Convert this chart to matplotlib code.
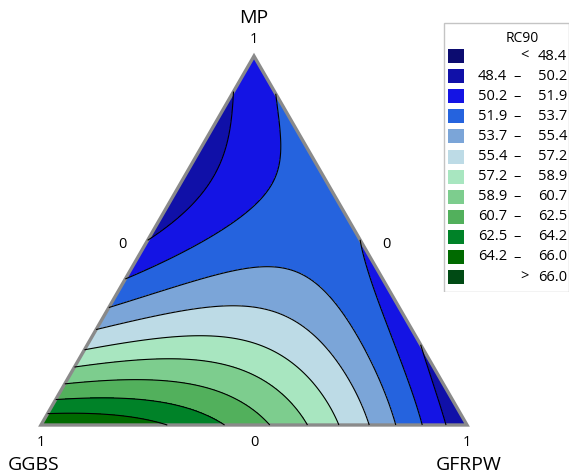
import numpy as np
import matplotlib
matplotlib.use("Agg")
import matplotlib.pyplot as plt
import matplotlib.tri as mtri
from matplotlib.patches import Polygon, Rectangle

plt.rcParams['font.family'] = ['Open Sans', 'DejaVu Sans']

# contour levels and band colours (RC90)
levels = [48.4, 50.2, 51.9, 53.7, 55.4, 57.2, 58.9, 60.7, 62.5, 64.2, 66.0]
band_colors = ['#0c0c70', '#1010a8', '#1414e4', '#2563de', '#7ba5d8', '#bddbe6',
               '#a8e6c0', '#7dcd8e', '#52b05c', '#008228', '#006a00', '#004a14']
legend_title = "RC90"

# points: GFRPW and MP fractions (GGBS = 1 - both) and RC90
gfrpw = [0.0, 1.0, 0.0,
         0.0, 0.0, 0.0, 0.0, 0.0, 0.0, 0.0, 0.0, 0.0, 0.0, 0.0,
         0.296, 0.427, 0.538, 0.627, 0.702, 0.770, 0.833, 0.892, 0.944,
         0.824, 0.65, 0.463, 0.27, 0.073,
         0.134, 0.274, 0.302, 0.381, 0.428, 0.550, 0.673, 0.765,
         0.154, 0.325, 0.389, 0.496, 0.593, 0.676,
         0.184, 0.382, 0.443, 0.554, 0.633,
         0.196, 0.430, 0.493, 0.577,
         0.188, 0.410,
         0.172, 0.346,
         0.115,
         0.144, 0.225, 0.226, 0.185, 0.096,
         0.596, 0.704, 0.802,
         0.065, 0.085, 0.049,
         0.873,
         0.35, 0.03, 0.05]
mp = [0.0, 0.0, 1.0,
      0.033, 0.068, 0.111, 0.157, 0.209, 0.257, 0.317, 0.393, 0.488, 0.70, 0.900,
      0.0, 0.0, 0.0, 0.0, 0.0, 0.0, 0.0, 0.0, 0.0,
      0.176, 0.35, 0.537, 0.73, 0.927,
      0.385, 0.434, 0.439, 0.420, 0.393, 0.304, 0.184, 0.095,
      0.298, 0.331, 0.312, 0.257, 0.184, 0.114,
      0.238, 0.217, 0.203, 0.141, 0.076,
      0.182, 0.122, 0.103, 0.049,
      0.122, 0.068,
      0.073, 0.041,
      0.033,
      0.835, 0.718, 0.637, 0.564, 0.474,
      0.366, 0.230, 0.114,
      0.780, 0.656, 0.556,
      0.095,
      0.55, 0.68, 0.90]
rc90 = [65.5, 48.8, 51.0,
        64.2, 62.5, 60.7, 58.9, 57.2, 55.4, 53.7, 51.9, 50.2, 49.6, 50.2,
        64.2, 62.5, 60.7, 58.9, 57.2, 55.4, 53.7, 51.9, 50.2,
        50.2, 51.1, 51.9, 52.6, 51.9,
        53.7, 53.7, 53.7, 53.7, 53.7, 53.7, 53.7, 53.7,
        55.4, 55.4, 55.4, 55.4, 55.4, 55.4,
        57.2, 57.2, 57.2, 57.2, 57.2,
        58.9, 58.9, 58.9, 58.9,
        60.7, 60.7,
        62.5, 62.5,
        64.2,
        51.9, 51.9, 51.9, 51.9, 51.9,
        51.9, 51.9, 51.9,
        50.2, 50.2, 50.2,
        50.2,
        52.9, 49.6, 51.0]


def quartic(b, c):
    a = 1 - b - c
    return np.column_stack([a**i * b**j * c**(4 - i - j)
                            for i in range(5) for j in range(5 - i)])


b_pts = np.array(gfrpw)
c_pts = np.array(mp)
coef = np.linalg.lstsq(quartic(b_pts, c_pts), np.array(rc90), rcond=None)[0]

# grid over the simplex
n = 220
ii, jj = np.meshgrid(np.arange(n + 1), np.arange(n + 1))
keep = (ii + jj) <= n
gb = ii[keep] / n
gc = jj[keep] / n
z = quartic(gb, gc) @ coef
h = np.sqrt(3) / 2
tri = mtri.Triangulation(gb + gc / 2, gc * h)

fig = plt.figure(figsize=(5.71, 4.76), dpi=100)
ax = fig.add_axes([0, 0, 1, 1])
ax.set_xlim(-41 / 426, 530 / 426)
ax.set_ylim(-51 / 426, 425 / 426)
ax.axis('off')

ax.tricontourf(tri, z, levels=[-1e3] + levels + [1e3], colors=band_colors)
ax.tricontour(tri, z, levels=levels, colors='black', linewidths=0.8)
ax.add_patch(Polygon([[0, 0], [1, 0], [0.5, h]], closed=True, fill=False,
                     edgecolor='#8a8a8a', linewidth=2.4, joinstyle='miter'))

tk = dict(fontsize=10.5, ha='center', va='center', color='black')
ax.text(0.5, 0.904, "1", **tk)
ax.text(0.0, -0.040, "1", **tk)
ax.text(1.0, -0.040, "1", **tk)
ax.text(0.5, -0.040, "0", **tk)
ax.text(0.190, 0.423, "0", **tk)
ax.text(0.812, 0.423, "0", **tk)
lb = dict(fontsize=14, ha='center', va='center', color='black')
ax.text(0.5, 0.956, "MP", **lb)
ax.text(-0.018, -0.094, "GGBS", **lb)
ax.text(1.003, -0.094, "GFRPW", **lb)

# legend box, drawn in its own axes (pixel-like units)
lax = fig.add_axes([443 / 571, 1 - 292 / 476, 126 / 571, 270 / 476])
lax.set_xlim(0, 126)
lax.set_ylim(270, 0)
lax.axis('off')
lax.add_patch(Rectangle((0.5, 0.5), 125, 269, fill=False, edgecolor='#c4c4c4', linewidth=1))
lax.text(79, 17, legend_title, fontsize=10, ha='center', va='center', color='black')
labels_lo = [None] + levels
labels_hi = levels + [None]
for k, col in enumerate(band_colors):
    yc = 34 + k * 20.1
    lax.add_patch(Rectangle((5, yc - 7), 16, 14, facecolor=col, edgecolor='none'))
    lo, hi = labels_lo[k], labels_hi[k]
    tx = dict(fontsize=10.5, va='center', color='black')
    if lo is None:
        lax.text(81, yc, "<", ha='center', **tx)
        lax.text(124, yc, f"{hi:.1f}", ha='right', **tx)
    elif hi is None:
        lax.text(81, yc, ">", ha='center', **tx)
        lax.text(124, yc, f"{lo:.1f}", ha='right', **tx)
    else:
        lax.text(64, yc, f"{lo:.1f}", ha='right', **tx)
        lax.text(74, yc, "–", ha='center', **tx)
        lax.text(124, yc, f"{hi:.1f}", ha='right', **tx)

fig.savefig("out.png", dpi=100)
